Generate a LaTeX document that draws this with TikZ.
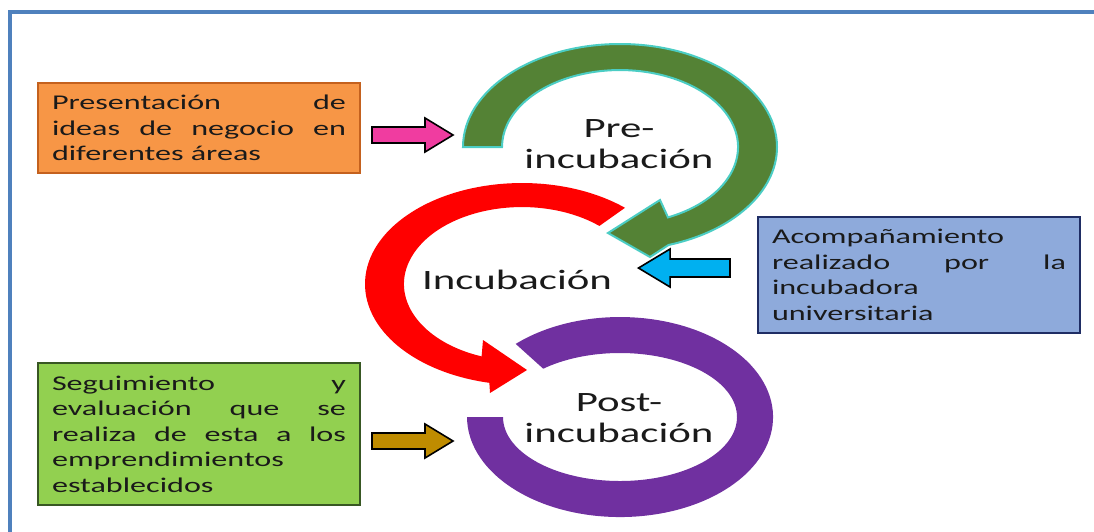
\documentclass[tikz,border=0pt]{standalone}
\usepackage{fontspec}
\setmainfont{Carlito}[FakeStretch=1.53]

\definecolor{framebl}{RGB}{79,129,189}
\definecolor{textdark}{RGB}{26,26,26}
\definecolor{boxorange}{RGB}{247,150,70}
\definecolor{lineorange}{RGB}{196,97,30}
\definecolor{boxgreen}{RGB}{146,208,80}
\definecolor{linegreen}{RGB}{56,87,35}
\definecolor{boxblue}{RGB}{142,170,219}
\definecolor{lineblue}{RGB}{31,45,100}
\definecolor{arcgreen}{RGB}{84,130,53}
\definecolor{arcturq}{RGB}{75,205,196}
\definecolor{arcred}{RGB}{255,0,0}
\definecolor{arcpurple}{RGB}{112,48,160}
\definecolor{arrowpink}{RGB}{240,60,160}
\definecolor{arrowgold}{RGB}{191,140,0}
\definecolor{arrowblue}{RGB}{0,176,240}

\newcommand{\boxsetup}{\hyphenpenalty=10000\relax \tolerance=10000\relax}

\tikzset{
  infobox/.style={rectangle, line width=2pt, text width=294pt, inner xsep=14pt, inner ysep=4pt,
    align=justify, text=textdark, font=\fontsize{21}{25.5}\selectfont\boxsetup},
  stagelabel/.style={align=center, anchor=base, text=textdark, font=\fontsize{28}{31}\selectfont},
  blockarrow/.style={draw=black, line width=1.6pt, line join=miter},
  frame/.style={draw=framebl, line width=4pt}
}

\begin{document}
\begin{tikzpicture}[x=1pt, y=-1pt]
  \useasboundingbox (0,0) rectangle (1094,531);
  %Marco
  \draw[frame] (10,545) -- (10,12) -- (1110,12);

  %Arcos
  \draw[fill=arcgreen, draw=arcturq, line width=2pt, line join=miter]
    (463,147) arc[start angle=180, end angle=-72, x radius=157pt, y radius=103pt]
    -- (650,257) -- (608,233) -- (660,200) -- (668,217.4)
    arc[start angle=-66, end angle=180, x radius=118pt, y radius=77pt] -- cycle;
  \fill[arcred]
    (625,207.8) arc[start angle=49, end angle=258, x radius=157pt, y radius=101pt]
    -- (490,393) -- (527,370) -- (483,340) -- (481.6,356.4)
    arc[start angle=250, end angle=49, x radius=118pt, y radius=77pt] -- cycle;
  \fill[arcpurple]
    (515.7,343.9) arc[start angle=133, end angle=-180, x radius=153pt, y radius=100pt]
    -- (503,417) arc[start angle=-180, end angle=131, x radius=117pt, y radius=64pt] -- cycle;

  %Etapas
  \node[stagelabel] (pre) at (619,168) {Pre-\\incubación};
  \node[stagelabel] (incu) at (517,289) {Incubación};
  \node[stagelabel] (post) at (619,442) {Post-\\incubación};

  %Cajas
  \node[infobox, fill=boxorange, draw=lineorange, minimum height=90pt] (ideas) at (199,128)
    {Presentación de\linebreak ideas de negocio en\linebreak diferentes áreas};
  \node[infobox, fill=boxblue, draw=lineblue, line width=2.5pt, minimum height=116pt] (acomp) at (919,275)
    {Acompañamiento\\ realizado por la\linebreak incubadora\\ universitaria};
  \node[infobox, fill=boxgreen, draw=linegreen, minimum height=142pt] (segui) at (199,434)
    {Seguimiento y\linebreak evaluación que se\linebreak realiza de esta a los\linebreak emprendimientos\\ establecidos};

  %Flechas
  \foreach \px/\py/\sx/\sy/\col in {372/135/1/1/arrowpink, 372/441/1/1/arrowgold, 730/268/-1.13/1.12/arrowblue}
    \draw[blockarrow, fill=\col, shift={(\px,\py)}, xscale=\sx, yscale=\sy]
      (0,-8) -- (53,-8) -- (53,-17) -- (81,0) -- (53,17) -- (53,8) -- (0,8) -- cycle;
\end{tikzpicture}
\end{document}
